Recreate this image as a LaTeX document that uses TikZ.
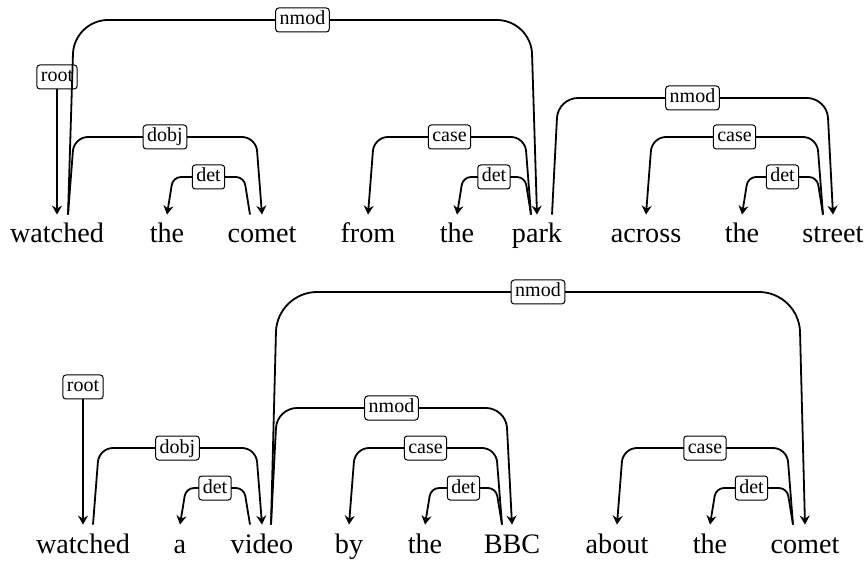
\documentclass[tikz,border=0pt]{standalone}
\usepackage{fontspec}
\setmainfont{Liberation Serif}
\usetikzlibrary{calc,arrows.meta}

% dependency arc: head, dependent, top y, corner radius, relation
\newcommand\deparc[5]{%
	\draw[dep,rounded corners=#4] let \p1=(#1), \p2=(#2), \p3=(0,#3),
		\n1={ifthenelse(\x2>\x1,3,-3)} in
		(\p1) -- ({\x1+\n1*1pt},\y3) -- node[lab]{#5} ({\x2-\n1*1pt},\y3) -- (\p2);}

\begin{document}
\begin{tikzpicture}[x=0.5pt,y=-0.5pt,
	>={Stealth[length=4.5pt,width=5pt,inset=1.5pt]},
	word/.style={font=\fontsize{14.1}{17}\selectfont,anchor=base,inner sep=0pt,text height=14pt},
	lab/.style={draw,fill=white,rounded corners=1.5pt,line width=0.5pt,font=\fontsize{10}{12}\selectfont,
		inner xsep=2pt,inner ysep=1.5pt,text height=7pt,text depth=2pt},
	dep/.style={line width=0.9pt,->}]
	\useasboundingbox (0,0) rectangle (868,561);

	\node[word] (watched) at (57,243) {watched};
	\node[word] (theA) at (167,243) {the};
	\node[word] (comet) at (262,243) {comet};
	\node[word] (from) at (368,243) {from};
	\node[word] (theB) at (457,243) {the};
	\node[word] (park) at (537,243) {park};
	\node[word] (across) at (646,243) {across};
	\node[word] (theC) at (742,243) {the};
	\node[word] (street) at (833,243) {street};

	\node[lab] (rootA) at (57,77) {root};
	\draw[dep] (rootA) -- (watched.north);
	\deparc{[xshift=5.5pt]watched.north}{park.north}{20}{17pt}{nmod}
	\deparc{[xshift=5.5pt]watched.north}{comet.north}{137}{7pt}{dobj}
	\deparc{[xshift=-6pt]comet.north}{theA.north}{177}{4pt}{det}
	\deparc{[xshift=-3pt]park.north}{from.north}{137}{7pt}{case}
	\deparc{[xshift=-3pt]park.north}{theB.north}{177}{4pt}{det}
	\deparc{[xshift=7.5pt]park.north}{street.north}{98}{10pt}{nmod}
	\deparc{[xshift=-5pt]street.north}{across.north}{137}{7pt}{case}
	\deparc{[xshift=-5pt]street.north}{theC.north}{177}{4pt}{det}

	\node[word] (watchedB) at (83,553) {watched};
	\node[word] (a) at (180,553) {a};
	\node[word] (video) at (262,553) {video};
	\node[word] (by) at (349,553) {by};
	\node[word] (theD) at (425,553) {the};
	\node[word] (bbc) at (512,553) {BBC};
	\node[word] (about) at (617,553) {about};
	\node[word] (theE) at (710,553) {the};
	\node[word] (cometB) at (805,553) {comet};

	\node[lab] (rootB) at (83,387) {root};
	\draw[dep] (rootB) -- (watchedB.north);
	\deparc{[xshift=5pt]watchedB.north}{video.north}{448}{7pt}{dobj}
	\deparc{[xshift=-6pt]video.north}{a.north}{488}{4pt}{det}
	\deparc{[xshift=4.5pt]video.north}{cometB.north}{292}{20pt}{nmod}
	\deparc{[xshift=4.5pt]video.north}{bbc.north}{408}{10pt}{nmod}
	\deparc{[xshift=-5pt]bbc.north}{by.north}{448}{7pt}{case}
	\deparc{[xshift=-5pt]bbc.north}{theD.north}{488}{4pt}{det}
	\deparc{[xshift=-6pt]cometB.north}{about.north}{448}{7pt}{case}
	\deparc{[xshift=-6pt]cometB.north}{theE.north}{488}{4pt}{det}
\end{tikzpicture}
\end{document}
